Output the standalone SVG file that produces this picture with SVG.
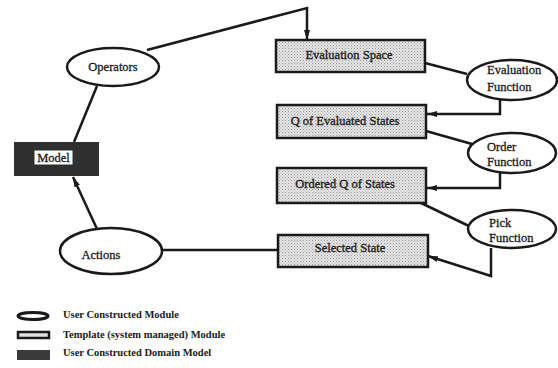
<svg xmlns="http://www.w3.org/2000/svg" width="558" height="368" viewBox="0 0 558 368">
<style>
  .lbl { font-family: "Liberation Serif", "Times New Roman", serif; font-size: 12.5px; fill: #1a1a1a; stroke: #1a1a1a; stroke-width: 0.3; }
  .leg { font-family: "Liberation Serif", "Times New Roman", serif; font-size: 10.5px; font-weight: bold; fill: #1a1a1a; }
  .ell { fill: #ffffff; stroke: #1a1a1a; stroke-width: 2.5; }
  .box { fill: url(#stip); stroke: #1a1a1a; stroke-width: 2.5; }
  .con { fill: none; stroke: #1a1a1a; stroke-width: 2.5; stroke-linejoin: miter; }
</style>
<defs>
  <pattern id="stip" width="3" height="3" patternUnits="userSpaceOnUse">
    <rect width="3" height="3" fill="#e4e4e4"/>
    <rect width="1" height="1" fill="#9a9a9a"/>
    <rect x="1.5" y="1.5" width="1" height="1" fill="#b0b0b0"/>
  </pattern>
  <marker id="arr" viewBox="0 0 10 6" refX="10" refY="3" markerWidth="10" markerHeight="6" markerUnits="userSpaceOnUse" orient="auto">
    <path d="M0,0 L10,3 L0,6 Z" fill="#1a1a1a"/>
  </marker>
</defs>
<rect width="558" height="368" fill="#ffffff"/>

<g id="connectors">
  <path class="con" d="M147,50 L307,8 L307,40" marker-end="url(#arr)"/>
  <path class="con" d="M97,86 L74,142"/>
  <path class="con" d="M425,63 L467,74"/>
  <path class="con" d="M500,100 L500,114 L427,114" marker-end="url(#arr)"/>
  <path class="con" d="M426,131 L472,144"/>
  <path class="con" d="M500,172 L500,188 L427,188" marker-end="url(#arr)"/>
  <path class="con" d="M419,202 L471,227"/>
  <path class="con" d="M491,248 L491,276 L428,256" marker-end="url(#arr)"/>
  <path class="con" d="M278,250 L162,250"/>
  <path class="con" d="M97,229 L73,177" marker-end="url(#arr)"/>
</g>

<g id="model">
  <rect x="14" y="142" width="85" height="34" fill="#2f2f2f"/>
  <rect x="34" y="150" width="39" height="15" fill="#ffffff" stroke="#2f2f2f" stroke-width="1"/>
  <text class="lbl" x="53.5" y="162" text-anchor="middle" font-size="12">Model</text>
</g>

<g id="operators">
  <ellipse class="ell" cx="113" cy="67" rx="46" ry="19"/>
  <text class="lbl" x="113" y="71" text-anchor="middle">Operators</text>
</g>

<g id="actions">
  <ellipse class="ell" cx="111" cy="251" rx="51" ry="23"/>
  <text class="lbl" x="101" y="259" text-anchor="middle">Actions</text>
</g>

<g id="evaluation-space">
  <rect class="box" x="276" y="40" width="149" height="32"/>
  <text class="lbl" x="349" y="59" text-anchor="middle">Evaluation Space</text>
</g>

<g id="q-evaluated">
  <rect class="box" x="277" y="105" width="149" height="33"/>
  <text class="lbl" x="345" y="125" text-anchor="middle">Q of Evaluated States</text>
</g>

<g id="ordered-q">
  <rect class="box" x="277" y="168" width="149" height="35"/>
  <text class="lbl" x="345" y="188" text-anchor="middle">Ordered Q of States</text>
</g>

<g id="selected-state">
  <rect class="box" x="278" y="235" width="150" height="32"/>
  <text class="lbl" x="350" y="252" text-anchor="middle">Selected State</text>
</g>

<g id="evaluation-function">
  <ellipse class="ell" cx="512" cy="80" rx="45" ry="20"/>
  <text class="lbl" x="487" y="74">Evaluation</text>
  <text class="lbl" x="487" y="91">Function</text>
</g>

<g id="order-function">
  <ellipse class="ell" cx="512" cy="153" rx="44" ry="20"/>
  <text class="lbl" x="487" y="151">Order</text>
  <text class="lbl" x="487" y="166">Function</text>
</g>

<g id="pick-function">
  <ellipse class="ell" cx="512" cy="229" rx="44" ry="19"/>
  <text class="lbl" x="489" y="227">Pick</text>
  <text class="lbl" x="489" y="242">Function</text>
</g>

<g id="legend">
  <ellipse cx="33" cy="316" rx="15" ry="3.5" fill="#ffffff" stroke="#1a1a1a" stroke-width="3"/>
  <rect x="18" y="332" width="31" height="6" fill="#e0e0e0" stroke="#1a1a1a" stroke-width="2.5"/>
  <rect x="17" y="350" width="33" height="10" fill="#3a3a3a"/>
  <text class="leg" x="63" y="318">User Constructed Module</text>
  <text class="leg" x="63" y="338">Template (system managed) Module</text>
  <text class="leg" x="63" y="356">User Constructed Domain Model</text>
</g>
</svg>
